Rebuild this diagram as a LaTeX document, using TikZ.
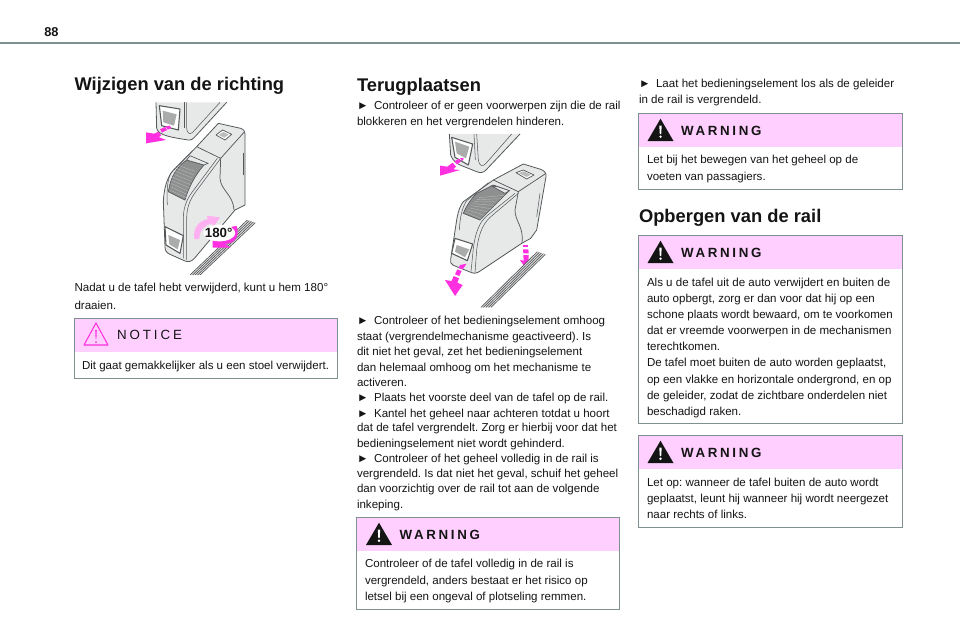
\documentclass[tikz,border=0pt]{standalone}
\usepackage{fontspec}
\setmainfont{Liberation Sans}
\newfontfamily\spacedbold[LetterSpace=20,BoldFont={Liberation Sans Bold}]{Liberation Sans}
\newfontfamily\spacedreg[LetterSpace=22]{Liberation Sans}
\definecolor{ink}{HTML}{141414}
\definecolor{boxedge}{HTML}{7F9090}
\definecolor{pinkhead}{HTML}{FFD0FF}
\definecolor{mag}{HTML}{FF30E0}
\definecolor{palemag}{HTML}{FFB0F0}
\definecolor{bodyfill}{HTML}{E7E9E9}
\definecolor{linegray}{HTML}{55585A}
\definecolor{grille}{HTML}{8E9090}
\tikzset{
  txt/.style={anchor=base west,inner sep=0pt,outer sep=0pt,text=ink,font=\fontsize{8.66}{11}\selectfont\frenchspacing},
  headtxt/.style={anchor=base west,inner sep=0pt,outer sep=0pt,text=ink,font=\fontsize{13.75}{16}\selectfont\bfseries},
  warntxt/.style={anchor=base west,inner sep=0pt,outer sep=0pt,text=ink,font=\fontsize{10}{11}\selectfont\spacedbold\bfseries},
  noticetxt/.style={anchor=base west,inner sep=0pt,outer sep=0pt,text=ink,font=\fontsize{10}{11}\selectfont\spacedreg},
  outline/.style={draw=linegray,line width=.55pt,line join=round},
  thinline/.style={draw=linegray,line width=.4pt,line join=round},
  hood/.style={fill=bodyfill,draw=linegray,line width=.6pt,line join=round},
  arrowmag/.style={fill=mag,draw=none},
}
\newcommand{\bul}{\makebox[12.8pt][l]{\char"25BA}}
\newcommand{\tl}[4]{\node[txt] (#1) at (#2,#3) {#4};}
% name, left, right, top, header bottom, bottom
\newcommand{\panel}[6]{%
  \fill[pinkhead] (#2,#4) rectangle (#3,#5);
  \draw[boxedge,line width=.75pt] (#2,#4) rectangle (#3,#6);
}
\newcommand{\warnmark}[3]{%
  \begin{scope}[shift={(#1,#2)}]
    \fill[ink] (22.5,5.7) -- (9.5,28) -- (35.5,28) -- cycle;
    \fill[white] (21.3,12.5) -- (23.7,12.5) -- (23.2,21) -- (21.8,21) -- cycle;
    \fill[white] (22.5,23.7) circle (1.3);
  \end{scope}
  \node[warntxt] (#3) at ({#1+43},{#2+22}) {WARNING};
}
\newcommand{\railband}[4]{%
  \fill[black!12] (#1,#2) -- ({#1+30},{#2}) -- ({#3+24},{#4+8}) -- (#3,#4) -- cycle;
  \foreach \k in {0,.25,.5,.75,1}{
    \draw[draw=linegray,line width=.5pt] ({#1+\k*30},{#2}) -- ({#3+\k*24},{#4+\k*8});
  }
}
\begin{document}
\begin{tikzpicture}[x=.75pt,y=-.75pt]
\useasboundingbox (0,0) rectangle (960,640);
\fill[white] (0,0) rectangle (960,640);
\draw[boxedge,line width=1.1pt] (0,43) -- (960,43);
\node[anchor=base west,inner sep=0pt,text=ink,font=\fontsize{9.6}{11}\selectfont\bfseries] (pageno) at (44,36) {88};

% ---- headings
\node[headtxt] (h1) at (74.5,90) {Wijzigen van de richting};
\node[headtxt] (h2) at (357,91) {Terugplaatsen};
\node[headtxt] (h3) at (639,222) {Opbergen van de rail};

% ---- figure 1
\begin{scope}[shift={(130,95)},x=.25pt,y=-.25pt]
  \path[hood] (78,22) -- (80,100) .. controls (84,122) and (130,128) .. (175,135) .. controls (186,136) and (190,130) .. (196,124) -- (290,22);
  \draw[thinline] (170,22) -- (170,98) .. controls (170,112) and (178,122) .. (188,112) -- (270,22);
  \draw[thinline] (162,22) -- (162,100);
  \path[outline,line width=.8pt,fill=white] (88,32) -- (150,42) -- (145,105) -- (95,92) -- cycle;
  \fill[grille!75] (98,47) -- (140,58) -- (132,92) -- (100,82) -- cycle;
  % arrow
  \fill[arrowmag] (48,145) -- (48,112) -- (72,116) -- (86,110) -- (94,122) -- (86,126) -- (108,135) -- cycle;
  \fill[arrowmag] (90,103) -- (105,96) -- (111,105) -- (96,113) -- cycle;
  \fill[arrowmag] (107,94) -- (120,92) -- (123,99) -- (113,104) -- cycle;
  % body
  \path[hood] (265,85) -- (332,100) .. controls (342,103) and (345,110) .. (345,120) -- (345,330) -- (315,345) -- (195,488) .. controls (185,500) and (175,502) .. (165,498) -- (120,478) .. controls (110,473) and (105,468) .. (105,455) -- (100,320) .. controls (102,280) and (110,250) .. (130,225) -- (200,155) -- cycle;
  \draw[outline] (200,155) -- (272,190) -- (342,112);
  \draw[outline] (272,190) -- (270,250) .. controls (272,285) and (310,300) .. (312,345);
  \draw[thinline] (340,175) -- (340,240);
  \draw[thinline] (272,190) -- (205,280) .. controls (185,305) and (170,330) .. (170,370) -- (170,495);
  \draw[thinline] (262,190) -- (195,280) .. controls (175,305) and (160,330) .. (160,370) -- (160,490);
  \draw[thinline] (188,167) -- (122,235) .. controls (112,255) and (110,290) .. (112,330);
  % grille
  \path[fill=grille,draw=linegray,line width=.5pt] (115,290) .. controls (122,245) and (140,215) .. (170,195) -- (222,210) .. controls (195,240) and (175,280) .. (165,315) -- cycle;
  \foreach \k in {0,1,...,8}{
    \draw[white,opacity=.35,line width=.3pt] ({120+\k*1},{285-\k*10+0}) -- ({170+\k*3},{309-\k*10+0});
  }
  \path[fill=bodyfill,draw=linegray,line width=.5pt] (170,195) -- (180,182) -- (234,205) -- (222,210) -- cycle;
  % top handle
  \path[outline,fill=white] (258,120) -- (278,105) -- (305,118) -- (285,135) -- cycle;
  \path[fill=grille!60] (266,120) -- (280,111) -- (296,119) -- (283,128) -- cycle;
  % lower handle
  \path[outline,line width=.8pt,fill=white] (105,395) -- (160,422) -- (150,475) -- (108,450) -- cycle;
  \fill[grille!75] (115,420) -- (150,435) -- (143,463) -- (118,448) -- cycle;
  % rail
  \railband{180}{540}{352}{375}
  % 180 arrows
  \fill[palemag] (193,432) .. controls (188,400) and (205,378) .. (234,372) -- (230,362) -- (270,367) -- (250,396) -- (244,385) .. controls (225,390) and (208,405) .. (208,432) -- cycle;
  \fill[mag] (305,395) -- (320,393) .. controls (330,425) and (315,445) .. (285,447) -- (302,458) -- (248,458) -- (248,437) -- (262,430) .. controls (290,435) and (310,425) .. (305,395) -- cycle;
  \fill[white] (268,414) ellipse (48 and 25);
  \node[anchor=center,inner sep=0pt,text=ink,font=\fontsize{10}{10}\selectfont\bfseries] (deg) at (266,414) {180°};
\end{scope}

% ---- figure 2
\begin{scope}[shift={(410,130)},x=.25pt,y=-.25pt]
  \path[hood] (118,12) -- (122,75) .. controls (128,92) and (140,100) .. (150,105) -- (200,125) .. controls (212,130) and (220,128) .. (228,120) -- (330,12);
  \draw[thinline] (200,12) -- (205,90) .. controls (207,108) and (218,112) .. (228,100) -- (305,12);
  \draw[thinline] (192,12) -- (196,90);
  \path[outline,line width=.8pt,fill=white] (125,22) -- (188,42) -- (175,105) -- (135,82) -- cycle;
  \fill[grille!75] (135,35) -- (178,50) -- (168,85) -- (140,70) -- cycle;
  \fill[arrowmag] (90,137) -- (90,107) -- (112,110) -- (128,98) -- (138,110) -- (130,118) -- (150,120) -- cycle;
  \fill[arrowmag] (133,94) -- (147,86) -- (153,94) -- (141,103) -- cycle;
  \fill[arrowmag] (150,84) -- (162,85) -- (157,93) -- cycle;
  % body
  \path[hood] (340,102) -- (392,118) .. controls (404,122) and (409,130) .. (408,140) -- (380,300) -- (362,325) -- (335,340) -- (215,420) .. controls (205,428) and (195,432) .. (185,428) -- (130,406) .. controls (122,402) and (120,396) .. (122,388) -- (140,270) .. controls (145,240) and (152,225) .. (160,215) -- (250,150) -- cycle;
  \draw[outline] (250,150) -- (325,185) -- (405,132);
  \draw[outline] (325,185) -- (315,240) .. controls (315,275) and (342,290) .. (336,338);
  \draw[thinline] (390,190) -- (380,260);
  \draw[thinline] (325,190) -- (240,262) .. controls (215,285) and (205,320) .. (200,360) -- (195,428);
  \draw[thinline] (315,190) -- (230,258) .. controls (205,280) and (195,315) .. (190,355) -- (183,425);
  \draw[thinline] (235,158) -- (170,212) .. controls (155,235) and (150,265) .. (148,300);
  \path[fill=grille,draw=linegray,line width=.5pt] (160,250) .. controls (170,225) and (185,205) .. (200,190) -- (250,165) -- (298,182) -- (210,270) -- cycle;
  \foreach \k in {0,1,...,7}{
    \draw[white,opacity=.35,line width=.3pt] ({165+\k*6},{245-\k*6}) -- ({213+\k*10},{266-\k*10});
  }
  \path[fill=bodyfill,draw=linegray,line width=.5pt] (245,168) -- (262,170) -- (298,182) -- (285,190) -- cycle;
  \path[outline,fill=white] (318,128) -- (340,120) -- (372,135) -- (350,147) -- cycle;
  \path[fill=grille!60] (326,129) -- (342,124) -- (362,134) -- (350,141) -- cycle;
  \path[outline,line width=.8pt,fill=white] (135,325) -- (188,342) -- (172,392) -- (125,370) -- cycle;
  \fill[grille!75] (140,345) -- (178,358) -- (165,382) -- (135,365) -- cycle;
  % arrows
  \fill[arrowmag] (135,498) -- (105,450) -- (125,453) -- (131,438) -- (147,445) -- (142,458) -- (158,465) -- cycle;
  \fill[arrowmag] (135,433) -- (142,418) -- (155,423) -- (148,438) -- cycle;
  \fill[arrowmag] (146,414) -- (150,405) -- (170,401) -- (158,418) -- cycle;
  \fill[arrowmag] (350,420) -- (330,390) -- (341,392) -- (340,375) -- (356,375) -- (356,395) -- (368,398) -- cycle;
  \fill[arrowmag] (340,370) -- (339,358) -- (355,358) -- (356,370) -- cycle;
  \fill[arrowmag] (340,352) -- (340,345) -- (354,345) -- (354,352) -- cycle;
  \railband{213}{532}{382}{365}
\end{scope}

% ---- column 1 text
\tl{a1}{74.5}{291}{Nadat u de tafel hebt verwijderd, kunt u hem 180°}
\tl{a2}{74.5}{309}{draaien.}
\panel{nb}{74}{337}{318}{352}{378}
\path[draw=mag,line width=.8pt,line join=round] (96,323) -- (84,345) -- (108,345) -- cycle;
\fill[mag] (95.2,330) -- (96.8,330) -- (96.4,339) -- (95.6,339) -- cycle;
\fill[mag] (96,342) circle (1);
\node[noticetxt] (nt) at (117,339) {NOTICE};
\tl{a3}{82}{369}{Dit gaat gemakkelijker als u een stoel verwijdert.}

% ---- column 2 text
\tl{b1}{357}{109}{\bul Controleer of er geen voorwerpen zijn die de rail}
\tl{b2}{357}{125}{blokkeren en het vergrendelen hinderen.}
\tl{c1}{357}{324}{\bul Controleer of het bedieningselement omhoog}
\tl{c2}{357}{340}{staat (vergrendelmechanisme geactiveerd). Is}
\tl{c3}{357}{355}{dit niet het geval, zet het bedieningselement}
\tl{c4}{357}{371}{dan helemaal omhoog om het mechanisme te}
\tl{c5}{357}{386}{activeren.}
\tl{c6}{357}{401}{\bul Plaats het voorste deel van de tafel op de rail.}
\tl{c7}{357}{417}{\bul Kantel het geheel naar achteren totdat u hoort}
\tl{c8}{357}{431}{dat de tafel vergrendelt. Zorg er hierbij voor dat het}
\tl{c9}{357}{447}{bedieningselement niet wordt gehinderd.}
\tl{c10}{357}{462}{\bul Controleer of het geheel volledig in de rail is}
\tl{c11}{357}{477}{vergrendeld. Is dat niet het geval, schuif het geheel}
\tl{c12}{357}{492}{dan voorzichtig over de rail tot aan de volgende}
\tl{c13}{357}{508}{inkeping.}
\panel{w1}{356.5}{619}{517}{551}{609}
\warnmark{356.5}{517}{w1t}
\tl{d1}{365}{567}{Controleer of de tafel volledig in de rail is}
\tl{d2}{365}{584}{vergrendeld, anders bestaat er het risico op}
\tl{d3}{365}{600}{letsel bij een ongeval of plotseling remmen.}

% ---- column 3 text
\tl{e1}{639}{87}{\bul Laat het bedieningselement los als de geleider}
\tl{e2}{639}{103}{in de rail is vergrendeld.}
\panel{w2}{638}{902}{113}{147}{189}
\warnmark{638}{113}{w2t}
\tl{f1}{647}{163}{Let bij het bewegen van het geheel op de}
\tl{f2}{647}{180}{voeten van passagiers.}
\panel{w3}{638}{902}{235}{269}{423}
\warnmark{638}{235}{w3t}
\tl{g1}{647}{286}{Als u de tafel uit de auto verwijdert en buiten de}
\tl{g2}{647}{302}{auto opbergt, zorg er dan voor dat hij op een}
\tl{g3}{647}{318}{schone plaats wordt bewaard, om te voorkomen}
\tl{g4}{647}{334}{dat er vreemde voorwerpen in de mechanismen}
\tl{g5}{647}{350}{terechtkomen.}
\tl{g6}{647}{366}{De tafel moet buiten de auto worden geplaatst,}
\tl{g7}{647}{383}{op een vlakke en horizontale ondergrond, en op}
\tl{g8}{647}{399}{de geleider, zodat de zichtbare onderdelen niet}
\tl{g9}{647}{415}{beschadigd raken.}
\panel{w4}{638}{902}{435}{469}{527}
\warnmark{638}{435}{w4t}
\tl{k1}{647}{486}{Let op: wanneer de tafel buiten de auto wordt}
\tl{k2}{647}{502}{geplaatst, leunt hij wanneer hij wordt neergezet}
\tl{k3}{647}{518}{naar rechts of links.}
\end{tikzpicture}
\end{document}
